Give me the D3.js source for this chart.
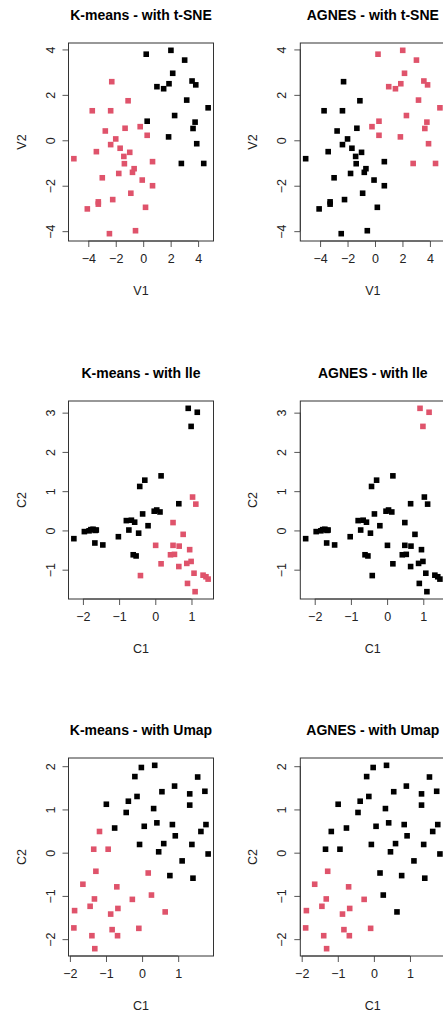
<!DOCTYPE html>
<html>
<head>
<meta charset="utf-8">
<script src="https://cdn.jsdelivr.net/npm/d3@7"></script>
<style>
  body { margin: 0; background: #fff; }
  text { font-family: "Liberation Sans", Arial, sans-serif; }
</style>
</head>
<body>
<div id="chart"></div>
<script>
// t-SNE embedding (first 19 = cluster 1 of k-means)
var tsneV1 = [0.22, 2.02, 3.02, 2.15, 1.00, 1.49, 1.88, 3.56, 3.83, 3.17, 4.73, 2.29, 0.29, 3.78, 3.63, 1.85, 3.90, 2.78, 4.41,
  -2.29, -1.10, -3.71, -2.37, -1.32, -0.22, -2.76, 0.29, -2.00, -2.37, -1.68, -0.98, -3.41, -1.41, -5.05, 0.68,
  -1.37, -0.66, -0.78, -1.78, -2.98, -0.07, 0.68, -0.90, -2.22, -3.27, -3.27, -4.07, 0.17, -0.56, -2.46];
var tsneV2 = [3.79, 3.96, 3.53, 2.95, 2.36, 2.27, 2.49, 2.61, 2.44, 1.77, 1.43, 1.09, 0.84, 0.80, 0.52, 0.15, -0.15, -1.02, -1.02,
  2.58, 1.74, 1.30, 1.30, 0.53, 0.60, 0.41, 0.22, 0.06, -0.19, -0.35, -0.53, -0.50, -0.71, -0.81, -0.94,
  -1.03, -1.25, -1.41, -1.46, -1.65, -1.75, -2.00, -2.33, -2.61, -2.71, -2.81, -3.02, -2.95, -3.98, -4.11];
var kmTsne = [1,1,1,1,1,1,1,1,1,1,1,1,1,1,1,1,1,1,1,
  2,2,2,2,2,2,2,2,2,2,2,2,2,2,2,2,2,2,2,2,2,2,2,2,2,2,2,2,2,2,2];
var agTsne = [2,2,2,2,2,2,2,2,2,2,2,2,2,2,2,2,2,2,2,
  1,1,1,1,1,2,1,2,1,1,1,1,1,1,1,1,1,1,1,1,1,1,1,1,1,1,1,1,1,1,1];

// lle embedding
var lleC1 = [0.91, 1.16, 0.99, 0.16, -0.29, -0.43, 0.65, -0.35, -0.03, 0.04, 0.13, -0.80, -0.66, -0.57, -0.20, -0.73, -0.46, -1.02,
  -2.25, -1.96, -1.83, -1.78, -1.72, -1.66, -1.63, -1.67, -1.45, -0.61, -0.53,
  1.03, 1.12, 0.49, 0.77, 0.01, 0.49, 0.66, 0.42, 0.53, 0.95, 0.16, 0.65, 0.87, 0.99, 1.07, -0.41, 1.32, 1.40, 1.46, 0.89, 1.10];
var lleC2 = [3.11, 3.01, 2.65, 1.39, 1.28, 1.12, 0.68, 0.42, 0.49, 0.52, 0.47, 0.25, 0.26, 0.21, 0.12, 0.01, -0.07, -0.16,
  -0.21, -0.03, -0.01, 0.02, 0.03, 0.00, 0.01, -0.32, -0.37, -0.62, -0.65,
  0.85, 0.67, 0.20, -0.10, -0.38, -0.38, -0.40, -0.62, -0.61, -0.49, -0.85, -0.92, -0.84, -0.79, -1.09, -1.15, -1.14, -1.18, -1.24, -1.35, -1.56];
var kmLle = [1,1,1,1,1,1,1,1,1,1,1,1,1,1,1,1,1,1,1,1,1,1,1,1,1,1,1,1,1,
  2,2,2,2,2,2,2,2,2,2,2,2,2,2,2,2,2,2,2,2,2];
var agLle = [2,2,2,1,1,1,1,1,1,1,1,1,1,1,1,1,1,1,1,1,1,1,1,1,1,1,1,1,1,
  1,1,1,1,1,1,1,1,1,1,1,1,1,1,1,1,1,1,1,1,1];

// Umap embedding
var umapC1 = [-0.02, 0.35, -0.20, 1.54, 0.90, 0.55, 1.32, 1.74, -0.14, -0.38, -0.99, 1.32, -0.44, 0.32, -0.76, 0.06, 0.41, 0.84,
  1.77, 1.63, 0.92, -0.07, 0.60, 1.38, 0.46, 1.83, 1.11, 0.77, 1.41,
  -1.18, -1.34, -0.94, -1.28, 0.17, -1.64, -0.70, -1.32, -0.27, 0.26, -1.44, -0.67, -1.87, -0.87, 0.64, -1.89, -0.83, -0.09, -1.39, -0.68, -1.31];
var umapC2 = [1.97, 2.02, 1.76, 1.75, 1.54, 1.41, 1.36, 1.42, 1.30, 1.19, 1.12, 1.10, 0.93, 1.02, 0.57, 0.61, 0.69, 0.65,
  0.65, 0.49, 0.39, 0.19, 0.21, 0.19, 0.02, -0.03, -0.19, -0.53, -0.59,
  0.49, 0.08, 0.08, -0.43, -0.47, -0.73, -0.79, -1.07, -1.08, -0.98, -1.24, -1.29, -1.34, -1.42, -1.37, -1.74, -1.78, -1.75, -1.92, -1.92, -2.22];
var kmUmap = [1,1,1,1,1,1,1,1,1,1,1,1,1,1,1,1,1,1,1,1,1,1,1,1,1,1,1,1,1,
  2,2,2,2,2,2,2,2,2,2,2,2,2,2,2,2,2,2,2,2,2];
var agUmap = [1,1,1,1,1,1,1,1,1,1,1,1,1,1,1,1,1,1,1,1,1,1,1,1,1,1,1,1,1,
  1,1,1,2,1,2,2,2,2,1,2,2,2,2,1,2,2,2,2,2,2];

var tsneTicksX = [-4, -2, 0, 2, 4];
var tsneTicksY = [-4, -2, 0, 2, 4];
var lleTicksX = [-2, -1, 0, 1];
var lleTicksY = [-1, 0, 1, 2, 3];
var umapTicksX = [-2, -1, 0, 1];
var umapTicksY = [-2, -1, 0, 1, 2];

var clusterColor = { 1: "#000000", 2: "#DF536B" };

var svg = d3.select("#chart").append("svg")
  .attr("width", 443)
  .attr("height", 1019);

var colLeft = [68.5, 300.3];
var rowTop = [43, 401, 758];
var boxW = 145, boxH = 198;

// R style: extend the data range by 4% on each side
function padded(vals) {
  var ext = d3.extent(vals);
  var d = (ext[1] - ext[0]) * 0.04;
  return [ext[0] - d, ext[1] + d];
}

function panel(col, row, xs, ys, cl, ticksX, ticksY, title, xlab, ylab) {
  var g = svg.append("g")
    .attr("transform", `translate(${colLeft[col]}, ${rowTop[row]})`);

  var x = d3.scaleLinear().domain(padded(xs)).range([0, boxW]);
  var y = d3.scaleLinear().domain(padded(ys)).range([boxH, 0]);

  var xAxis = g.append("g")
    .attr("transform", `translate(0, ${boxH})`)
    .call(d3.axisBottom(x).tickValues(ticksX).tickSize(6).tickPadding(7).tickFormat(d3.format("d")));
  var yAxis = g.append("g")
    .call(d3.axisLeft(y).tickValues(ticksY).tickSize(6).tickPadding(6).tickFormat(d3.format("d")));

  // axis line only between first and last tick, like base R
  [xAxis, yAxis].forEach(a => {
    a.select(".domain").remove();
    a.selectAll("line").attr("stroke", "#555");
    a.selectAll("text")
      .attr("fill", "#222")
      .style("font-size", "12.5px")
      .style("font-family", "'Liberation Sans', Arial, sans-serif");
  });
  xAxis.append("line")
    .attr("x1", x(ticksX[0])).attr("x2", x(ticksX[ticksX.length - 1]))
    .attr("stroke", "#555");
  yAxis.append("line")
    .attr("y1", y(ticksY[0])).attr("y2", y(ticksY[ticksY.length - 1]))
    .attr("stroke", "#555");

  // rotated y tick labels
  yAxis.selectAll(".tick text")
    .attr("x", null).attr("dy", null)
    .attr("text-anchor", "middle")
    .attr("transform", "translate(-14, 0) rotate(-90)");

  g.append("rect")
    .attr("width", boxW).attr("height", boxH)
    .attr("fill", "none")
    .attr("stroke", "#333")
    .attr("stroke-width", 1);

  var pts = xs.map((v, i) => ({ x: v, y: ys[i], c: cl[i] }));
  g.selectAll("rect.pt")
    .data(pts)
    .join("rect")
    .attr("class", "pt")
    .attr("x", d => x(d.x) - 2.8)
    .attr("y", d => y(d.y) - 2.8)
    .attr("width", 5.6)
    .attr("height", 5.6)
    .attr("fill", d => clusterColor[d.c]);

  g.append("text")
    .attr("x", boxW / 2)
    .attr("y", -23)
    .attr("text-anchor", "middle")
    .style("font-size", "14px")
    .style("font-weight", "bold")
    .text(title);

  g.append("text")
    .attr("x", boxW / 2)
    .attr("y", boxH + 54)
    .attr("text-anchor", "middle")
    .attr("fill", "#222")
    .style("font-size", "12.5px")
    .text(xlab);

  g.append("text")
    .attr("transform", `translate(-43, ${boxH / 2}) rotate(-90)`)
    .attr("text-anchor", "middle")
    .attr("fill", "#222")
    .style("font-size", "12.5px")
    .text(ylab);
}

panel(0, 0, tsneV1, tsneV2, kmTsne, tsneTicksX, tsneTicksY, "K-means - with t-SNE", "V1", "V2");
panel(1, 0, tsneV1, tsneV2, agTsne, tsneTicksX, tsneTicksY, "AGNES - with t-SNE", "V1", "V2");
panel(0, 1, lleC1, lleC2, kmLle, lleTicksX, lleTicksY, "K-means - with lle", "C1", "C2");
panel(1, 1, lleC1, lleC2, agLle, lleTicksX, lleTicksY, "AGNES - with lle", "C1", "C2");
panel(0, 2, umapC1, umapC2, kmUmap, umapTicksX, umapTicksY, "K-means - with Umap", "C1", "C2");
panel(1, 2, umapC1, umapC2, agUmap, umapTicksX, umapTicksY, "AGNES - with Umap", "C1", "C2");
</script>
</body>
</html>
